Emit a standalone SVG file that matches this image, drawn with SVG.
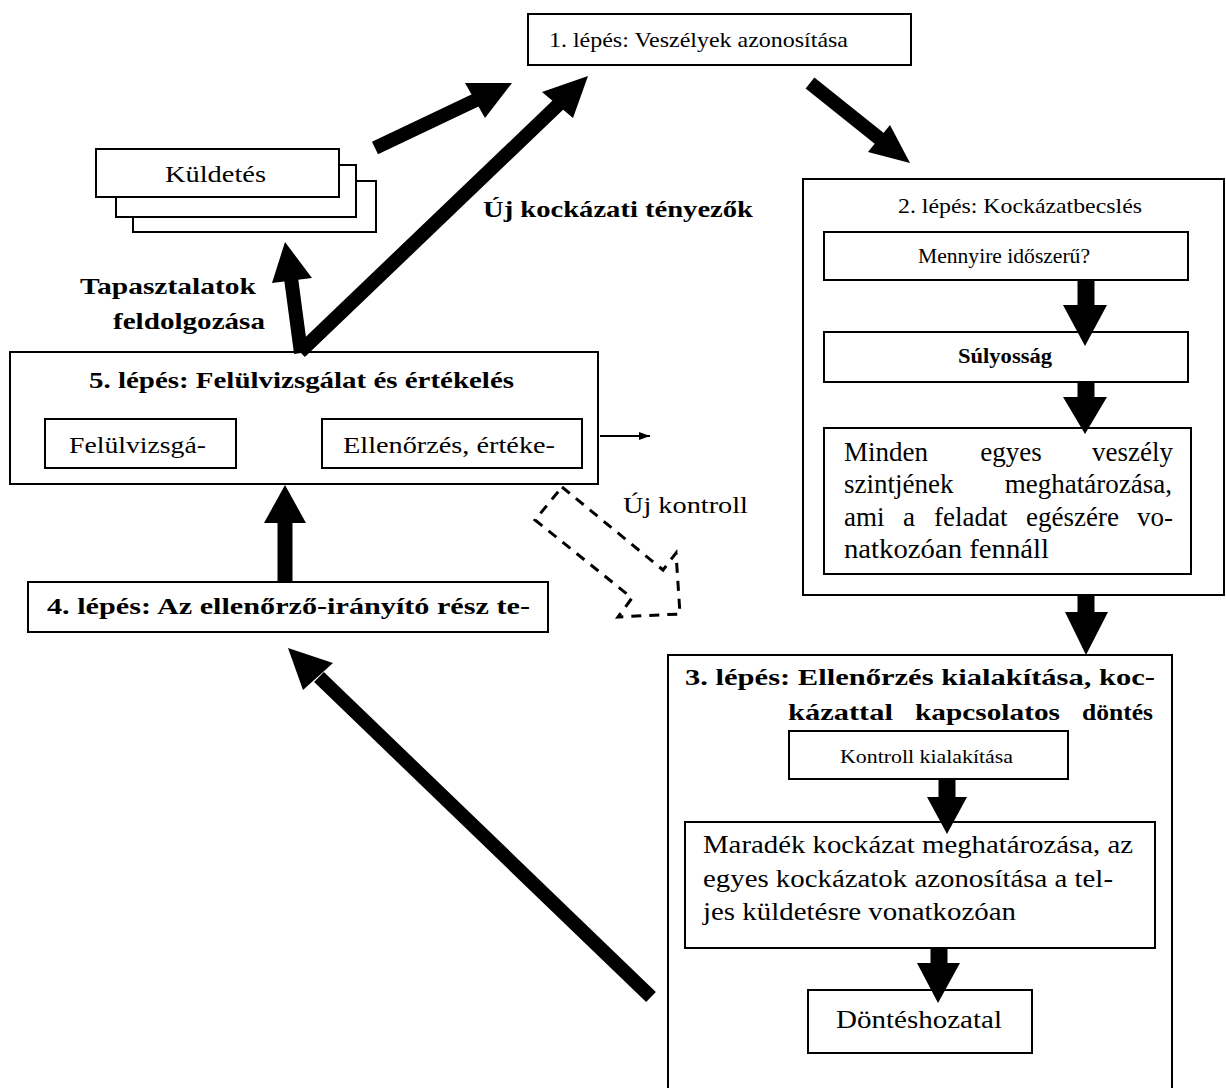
<svg xmlns="http://www.w3.org/2000/svg" width="1226" height="1088" viewBox="0 0 1226 1088">
<style>
text{font-family:"Liberation Serif","Times New Roman",serif;fill:#000}
.b{font-weight:bold}
.box{fill:#fff;stroke:#000;stroke-width:2}
.shaft{stroke:#000;fill:none;stroke-linecap:butt}
.head{fill:#000;stroke:none}
.dash{fill:none;stroke:#000;stroke-width:3;stroke-dasharray:10 8}
</style>
<defs>
<marker id="thin" markerWidth="12" markerHeight="10" refX="11" refY="5" orient="auto" markerUnits="userSpaceOnUse">
<path d="M0,1 L11,5 L0,9 z" fill="#000"/>
</marker>
</defs>
<rect width="1226" height="1088" fill="#fff"/>

<g id="step1">
<rect class="box" x="528" y="14" width="383" height="51"/>
<text x="549" y="47" font-size="21" textLength="299" lengthAdjust="spacingAndGlyphs">1. lépés: Veszélyek azonosítása</text>
</g>

<g id="mission">
<rect class="box" x="133" y="181" width="243" height="51"/>
<rect class="box" x="116" y="165" width="240" height="52"/>
<rect class="box" x="96" y="149" width="243" height="48"/>
<text x="165" y="182" font-size="24" textLength="101" lengthAdjust="spacingAndGlyphs">Küldetés</text>
</g>

<g id="step2">
<rect class="box" x="803" y="179" width="421" height="416"/>
<text x="898" y="213" font-size="21" textLength="244" lengthAdjust="spacingAndGlyphs">2. lépés: Kockázatbecslés</text>
<rect class="box" x="824" y="232" width="364" height="48"/>
<text x="918" y="263" font-size="20" textLength="172" lengthAdjust="spacingAndGlyphs">Mennyire időszerű?</text>
<rect class="box" x="824" y="332" width="364" height="50"/>
<text class="b" x="958" y="363" font-size="20" textLength="94" lengthAdjust="spacingAndGlyphs">Súlyosság</text>
<rect class="box" x="824" y="428" width="367" height="146"/>
<g font-size="27">
<text x="844" y="461">Minden</text>
<text x="1011" y="461" text-anchor="middle">egyes</text>
<text x="1173" y="461" text-anchor="end">veszély</text>
<text x="844" y="493">szintjének</text>
<text x="1172" y="493" text-anchor="end">meghatározása,</text>
<text x="844" y="526">ami</text>
<text x="903" y="526">a</text>
<text x="934" y="526">feladat</text>
<text x="1026" y="526">egészére</text>
<text x="1173" y="526" text-anchor="end">vo-</text>
<text x="844" y="558" textLength="205" lengthAdjust="spacingAndGlyphs">natkozóan fennáll</text>
</g>
</g>

<g id="step3">
<rect class="box" x="668" y="655" width="504" height="450"/>
<text class="b" x="685" y="685" font-size="23" textLength="470" lengthAdjust="spacingAndGlyphs">3. lépés: Ellenőrzés kialakítása, koc-</text>
<text class="b" x="788" y="720" font-size="23" textLength="105" lengthAdjust="spacingAndGlyphs">kázattal</text>
<text class="b" x="915" y="720" font-size="23" textLength="145" lengthAdjust="spacingAndGlyphs">kapcsolatos</text>
<text class="b" x="1082" y="720" font-size="23" textLength="71" lengthAdjust="spacingAndGlyphs">döntés</text>
<rect class="box" x="789" y="731" width="279" height="48"/>
<text x="840" y="763" font-size="19" textLength="173" lengthAdjust="spacingAndGlyphs">Kontroll kialakítása</text>
<rect class="box" x="685" y="822" width="470" height="126"/>
<text x="703" y="853" font-size="26" textLength="430" lengthAdjust="spacingAndGlyphs">Maradék kockázat meghatározása, az</text>
<text x="703" y="887" font-size="26" textLength="410" lengthAdjust="spacingAndGlyphs">egyes kockázatok azonosítása a tel-</text>
<text x="703" y="920" font-size="26" textLength="313" lengthAdjust="spacingAndGlyphs">jes küldetésre vonatkozóan</text>
<rect class="box" x="808" y="990" width="224" height="63"/>
<text x="836" y="1028" font-size="26" textLength="166" lengthAdjust="spacingAndGlyphs">Döntéshozatal</text>
</g>

<g id="step5">
<rect class="box" x="10" y="352" width="588" height="132"/>
<text class="b" x="89" y="388" font-size="23" textLength="425" lengthAdjust="spacingAndGlyphs">5. lépés: Felülvizsgálat és értékelés</text>
<rect class="box" x="45" y="419" width="191" height="49"/>
<text x="69" y="453" font-size="23" textLength="137" lengthAdjust="spacingAndGlyphs">Felülvizsgá-</text>
<rect class="box" x="322" y="419" width="260" height="49"/>
<text x="343" y="453" font-size="23" textLength="212" lengthAdjust="spacingAndGlyphs">Ellenőrzés, értéke-</text>
</g>

<g id="step4">
<rect class="box" x="28" y="582" width="520" height="50"/>
<text class="b" x="47" y="614" font-size="24" textLength="483" lengthAdjust="spacingAndGlyphs">4. lépés: Az ellenőrző-irányító rész te-</text>
</g>

<g id="labels">
<text class="b" x="483" y="217" font-size="23" textLength="270" lengthAdjust="spacingAndGlyphs">Új kockázati tényezők</text>
<text class="b" x="80" y="294" font-size="23" textLength="176" lengthAdjust="spacingAndGlyphs">Tapasztalatok</text>
<text class="b" x="113" y="329" font-size="23" textLength="152" lengthAdjust="spacingAndGlyphs">feldolgozása</text>
<text x="623" y="513" font-size="23" textLength="125" lengthAdjust="spacingAndGlyphs">Új kontroll</text>
</g>

<g id="connectors">
<line class="shaft" x1="375" y1="148" x2="476" y2="100" stroke-width="14"/>
<polygon class="head" points="512,83 465,83 485,118"/>
<line class="shaft" x1="300" y1="352" x2="559" y2="104" stroke-width="14"/>
<polygon class="head" points="588,76 542,92 573,118"/>
<line class="shaft" x1="301" y1="353" x2="291" y2="278" stroke-width="14"/>
<polygon class="head" points="285,242 272,283 312,278"/>
<line class="shaft" x1="810" y1="83" x2="880" y2="139" stroke-width="14"/>
<polygon class="head" points="910,163 868,152 890,125"/>
<line class="shaft" x1="1086" y1="280" x2="1086" y2="306" stroke-width="17"/>
<polygon class="head" points="1063,305 1107,305 1085,346"/>
<line class="shaft" x1="1086" y1="382" x2="1086" y2="398" stroke-width="17"/>
<polygon class="head" points="1063,397 1107,397 1085,434"/>
<line class="shaft" x1="1086" y1="595" x2="1086" y2="613" stroke-width="17"/>
<polygon class="head" points="1065,612 1108,612 1086,655"/>
<line class="shaft" x1="947" y1="779" x2="947" y2="798" stroke-width="17"/>
<polygon class="head" points="927,797 967,797 947,834"/>
<line class="shaft" x1="939" y1="948" x2="939" y2="964" stroke-width="17"/>
<polygon class="head" points="917,963 960,963 938,1003"/>
<line class="shaft" x1="651" y1="997" x2="319" y2="677" stroke-width="14"/>
<polygon class="head" points="288,648 333,663 303,690"/>
<line class="shaft" x1="285" y1="582" x2="285" y2="522" stroke-width="15"/>
<polygon class="head" points="264,523 306,523 285,485"/>
<line x1="600" y1="436" x2="650" y2="436" stroke="#000" stroke-width="2" marker-end="url(#thin)"/>
<polygon class="dash" points="562,487 663,570 676,553 680,614 618,617 632,598 535,520"/>
</g>
</svg>
